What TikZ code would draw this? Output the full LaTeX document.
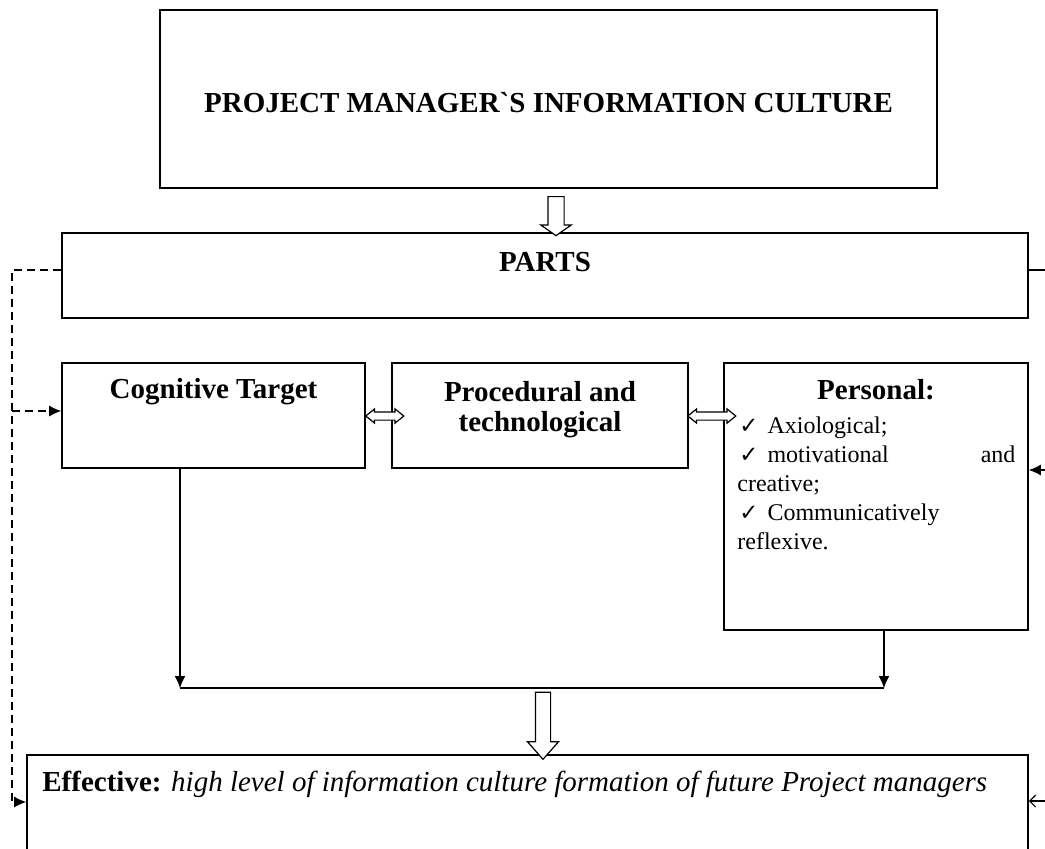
\documentclass[tikz,border=0pt]{standalone}
\usepackage{fontspec}
\setmainfont{Liberation Serif}[Ligatures=TeXOff]
\newfontfamily\checkfont[Scale=0.95]{DejaVu Sans}
\usetikzlibrary{positioning,calc,arrows.meta,shapes.arrows}
\tikzset{font=\fontsize{12}{14.5}\selectfont}

\newcommand{\tick}{\hspace{1pt}{\checkfont ✓}\hspace{4.5pt}}

\begin{document}
\begin{tikzpicture}[x=0.5pt, y=-0.5pt,
	box/.style={draw, line width=0.8pt, inner sep=0pt},
	head/.style={font=\bfseries\fontsize{14.5}{15}\selectfont, align=center, inner sep=0pt},
	line/.style={line width=0.6pt},
	link/.style={line, -{Latex[length=6pt, width=5.5pt]}},
	dashlink/.style={line, dash pattern=on 4pt off 2.5pt},
	blockdown/.style={single arrow, draw, fill=white, line width=0.6pt, rotate=-90, inner xsep=0pt},
	blockboth/.style={double arrow, draw, fill=white, line width=0.6pt, inner xsep=0pt,
		inner ysep=1.75pt, double arrow head extend=1.5pt, double arrow tip angle=78}]
	\useasboundingbox (0,0) rectangle (1045,848);
	\clip (0,0) rectangle (1045,848);

	% boxes
	\node[box, minimum width=388.5pt, minimum height=89pt] (title) at (548.5,99) {};
	\node[head, anchor=base] (titletext) at (548.5,112) {PROJECT MANAGER`S INFORMATION CULTURE};

	\node[box, minimum width=483pt, minimum height=42.5pt] (parts) at (545,275.5) {};
	\node[head, anchor=base] (partstext) at (545,271) {PARTS};

	\node[box, minimum width=151.5pt, minimum height=52.5pt] (cog) at (213.5,415.5) {};
	\node[head, anchor=base] (cogtext) at (213.5,398) {Cognitive Target};

	\node[box, minimum width=148pt, minimum height=52.5pt] (proc) at (540,415.5) {};
	\node[head] (proctext) at (540,410) {Procedural and\\technological};

	\node[box, minimum width=152pt, minimum height=133.5pt] (pers) at (876,496.5) {};
	\node[head, anchor=base] (perstext) at (876,399) {Personal:};
	\node[anchor=north west, inner sep=0pt, text width=139pt, align=left] (perslist) at (737,416) {%
		\tick Axiological;\\
		\tick motivational\hfill and\\
		creative;\\
		\tick Communicatively\\
		reflexive.};

	\node[box, minimum width=500.5pt, minimum height=57.5pt] (eff) at (527.5,812.5) {};
	\node[anchor=base west, inner sep=0pt, font=\fontsize{14.5}{17}\selectfont] (efftext) at (42,791)
		{\textbf{Effective:} \textit{high level of information culture formation of future Project managers}};

	% block arrows
	\node[blockdown, minimum height=19.5pt, inner ysep=3.75pt, single arrow head extend=3.5pt,
		single arrow tip angle=110] (toparrow) at ($(title.south)+(7.5,24.5)$) {};
	\node[blockboth, minimum height=19pt] (leftpair) at ($(cog.east)+(19,0.5)$) {};
	\node[blockboth, minimum height=24pt] (rightpair) at ($(proc.east)+(23,0.5)$) {};

	% joining line
	\coordinate (joinL) at (180,688);
	\coordinate (joinR) at (884,688);
	\draw[link] (cog.south -| joinL) -- (joinL);
	\draw[link] (pers.south -| joinR) -- (joinR);
	\draw[line] (joinL) -- (joinR);
	\node[blockdown, minimum height=33.5pt, inner ysep=3.5pt, single arrow head extend=4pt,
		single arrow tip angle=83] (botarrow) at ($(joinL)!0.5!(joinR)+(11,33.5)$) {};

	% feedback lines
	\coordinate (dtop) at (12,270);
	\coordinate (dmid) at (12,411);
	\coordinate (dbot) at (12,802);
	\draw[dashlink, -{Latex[length=6pt, width=5.5pt]}] (parts.west |- dtop) -- (dtop) -- (dbot) -- (dbot -| eff.west);
	\draw[dashlink, -{Latex[length=6pt, width=5.5pt]}] (dmid) -- (dmid -| cog.west);

	\coordinate (rtop) at (1045,270);
	\coordinate (rmid) at (1045,470);
	\coordinate (rbot) at (1045,801);
	\draw[line] (parts.east |- rtop) -- (rtop);
	\draw[link] (rmid) -- (rmid -| pers.east);
	\draw[line, -{Straight Barb[length=3pt, width=6pt]}] (rbot) -- (rbot -| eff.east);
\end{tikzpicture}
\end{document}
